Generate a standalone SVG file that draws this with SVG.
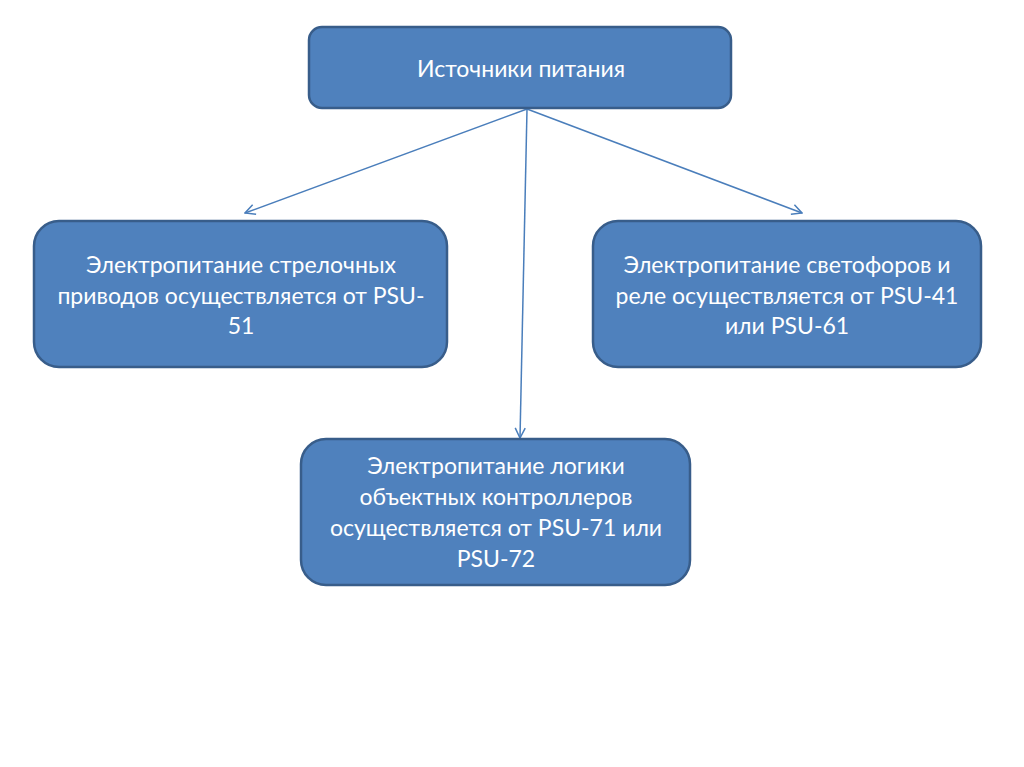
<svg xmlns="http://www.w3.org/2000/svg" width="1024" height="767" viewBox="0 0 1024 767">
<style>
.box{fill:#4F81BD;stroke:#385D8A;stroke-width:2.5}
.t{font-family:Lato,"Open Sans","Liberation Sans",sans-serif;font-size:23px;fill:#FFFFFF;text-anchor:middle}
.c{stroke:#4A7EBB;stroke-width:1.5;fill:none}
</style>
<defs>
<marker id="ah" viewBox="0 0 12 12" refX="11" refY="6" markerWidth="12" markerHeight="12" markerUnits="userSpaceOnUse" orient="auto">
<path d="M1,1 L11,6 L1,11" fill="none" stroke="#4A7EBB" stroke-width="1.5"/>
</marker>
</defs>
<rect x="0" y="0" width="1024" height="767" fill="#FFFFFF"/>
<g id="connectors">
<line class="c" x1="527" y1="109" x2="245" y2="213" marker-end="url(#ah)"/>
<line class="c" x1="527" y1="109" x2="520" y2="438" marker-end="url(#ah)"/>
<line class="c" x1="527" y1="109" x2="802" y2="213" marker-end="url(#ah)"/>
</g>
<g id="node-top">
<rect class="box" x="309" y="27" width="422" height="81" rx="13"/>
<text class="t" x="521" y="77">Источники питания</text>
</g>
<g id="node-left">
<rect class="box" x="34" y="221" width="413" height="146" rx="25"/>
<text class="t" x="241" y="273">Электропитание стрелочных</text>
<text class="t" x="241" y="304">приводов осуществляется от PSU-</text>
<text class="t" x="241" y="334">51</text>
</g>
<g id="node-right">
<rect class="box" x="593" y="221" width="388" height="146" rx="25"/>
<text class="t" x="787" y="273">Электропитание светофоров и</text>
<text class="t" x="787" y="304">реле осуществляется от PSU-41</text>
<text class="t" x="787" y="334">или PSU-61</text>
</g>
<g id="node-bottom">
<rect class="box" x="301" y="439" width="389" height="146" rx="25"/>
<text class="t" x="496" y="474">Электропитание логики</text>
<text class="t" x="496" y="505">объектных контроллеров</text>
<text class="t" x="496" y="536">осуществляется от PSU-71 или</text>
<text class="t" x="496" y="567">PSU-72</text>
</g>
</svg>
